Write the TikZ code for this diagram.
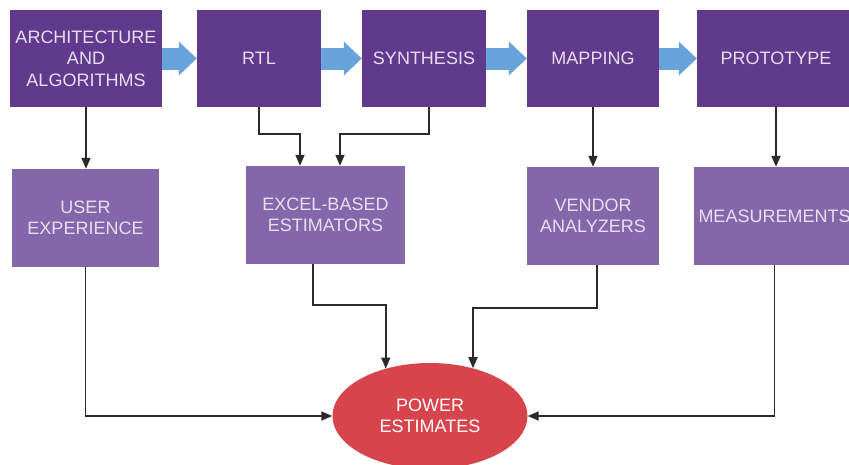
\documentclass[tikz,border=0pt]{standalone}
\usepackage{fontspec}
\setmainfont{Liberation Sans}
\usetikzlibrary{arrows.meta,shapes.geometric}
\definecolor{topc}{HTML}{613A8D}
\definecolor{lowc}{HTML}{8467AA}
\definecolor{flowc}{HTML}{69A3DC}
\definecolor{redc}{HTML}{D8444C}
\definecolor{txtc}{HTML}{E6DFEE}
\definecolor{linec}{HTML}{2A2A2A}
\tikzset{
  box/.style={rectangle, inner sep=0pt, align=center, text=txtc,
    font=\fontsize{18}{21.5}\selectfont},
  topbox/.style={box, fill=topc, minimum height=97pt},
  lowbox/.style={box, fill=lowc, minimum height=98pt},
  flow/.style={draw=flowc, line width=22pt,
    -{Triangle[length=18pt,width=34pt,line width=0pt]}},
  conn/.style={draw=linec, line width=1.7pt,
    -{Triangle[length=11pt,width=9pt]}},
}
\begin{document}
\begin{tikzpicture}[x=1pt,y=-1pt]
\useasboundingbox (0,0) rectangle (849,464);
\node[topbox, minimum width=152pt] (arch) at (86,58.5) {ARCHITECTURE\\AND\\ALGORITHMS};
\node[topbox, minimum width=124pt] (rtl) at (259,58.5) {RTL};
\node[topbox, minimum width=124pt] (synth) at (424,58.5) {SYNTHESIS};
\node[topbox, minimum width=132pt] (map) at (593,58.5) {MAPPING};
\node[topbox, minimum width=158pt] (proto) at (776,58.5) {PROTOTYPE};
\node[lowbox, minimum width=147pt] (user) at (85.5,218) {USER\\EXPERIENCE};
\node[lowbox, minimum width=159pt] (excel) at (325.5,215) {EXCEL-BASED\\ESTIMATORS};
\node[lowbox, minimum width=132pt] (vendor) at (593,216) {VENDOR\\ANALYZERS};
\node[lowbox, minimum width=161pt] (meas) at (774.5,216) {MEASUREMENTS};
\node[ellipse, fill=redc, inner sep=0pt, minimum width=195pt, minimum height=106pt,
  align=center, text=white, font=\fontsize{18}{21.5}\selectfont] (power) at (430,416) {POWER\\ESTIMATES};
\draw[flow] (arch.east) -- (rtl.west);
\draw[flow] (rtl.east) -- (synth.west);
\draw[flow] (synth.east) -- (map.west);
\draw[flow] (map.east) -- (proto.west);
\draw[conn] (arch.south) -- (arch.south |- user.north);
\draw[conn] (rtl.south) -- ++(0,27) -| ([xshift=-25.5pt]excel.north);
\draw[conn] ([xshift=5pt]synth.south) -- ++(0,27) -| ([xshift=14.5pt]excel.north);
\draw[conn] (map.south) -- (vendor.north);
\draw[conn] (proto.south) -- (proto.south |- meas.north);
\draw[conn] (user.south) |- (power.west);
\draw[conn] ([xshift=-12.5pt]excel.south) -- ++(0,41) -| (power.133);
\draw[conn] ([xshift=4pt]vendor.south) -- ++(0,43) -| (power.48);
\draw[conn] (meas.south) |- (power.east);
\end{tikzpicture}
\end{document}
